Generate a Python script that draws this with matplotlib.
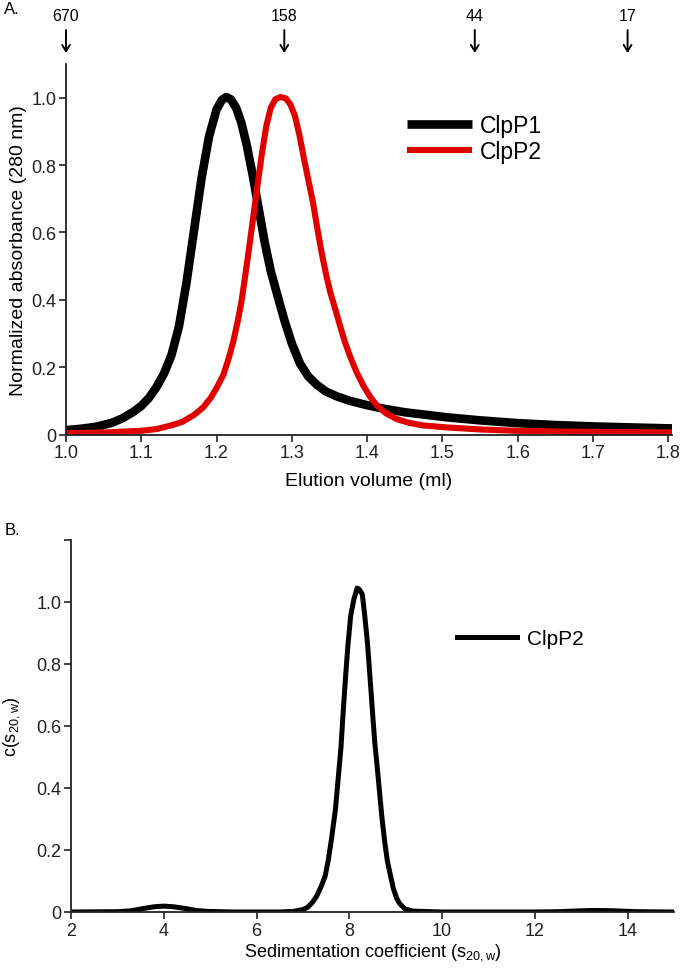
import matplotlib
matplotlib.use("Agg")
import matplotlib.pyplot as plt

plt.rcParams['font.family'] = ['Liberation Sans', 'DejaVu Sans']
plt.rcParams['mathtext.default'] = 'regular'

# ---------------- Data ----------------
# Panel A: size-exclusion chromatography
clpp1_volume = [1.000, 1.020, 1.040, 1.060, 1.075, 1.090, 1.100, 1.110, 1.120, 1.130,
                1.140, 1.150, 1.160, 1.170, 1.180, 1.190, 1.200, 1.207, 1.213, 1.219,
                1.226, 1.233, 1.240, 1.248, 1.256, 1.264, 1.272, 1.280, 1.290, 1.300,
                1.311, 1.322, 1.333, 1.345, 1.360, 1.377, 1.400, 1.421, 1.450, 1.480,
                1.506, 1.550, 1.598, 1.650, 1.700, 1.750, 1.805]
clpp1_abs = [0.013, 0.017, 0.023, 0.034, 0.048, 0.068, 0.085, 0.108, 0.140, 0.180,
             0.235, 0.320, 0.450, 0.605, 0.760, 0.885, 0.965, 0.993, 1.002, 0.995,
             0.970, 0.925, 0.860, 0.770, 0.670, 0.570, 0.485, 0.420, 0.340, 0.270,
             0.210, 0.172, 0.148, 0.128, 0.113, 0.100, 0.087, 0.077, 0.066, 0.058,
             0.051, 0.042, 0.034, 0.028, 0.024, 0.021, 0.018]

clpp2_volume = [1.000, 1.050, 1.100, 1.120, 1.140, 1.155, 1.170, 1.182, 1.192, 1.200,
                1.209, 1.216, 1.222, 1.228, 1.233, 1.238, 1.243, 1.249, 1.255, 1.260,
                1.266, 1.272, 1.278, 1.285, 1.292, 1.298, 1.304, 1.310, 1.316, 1.322,
                1.328, 1.334, 1.340, 1.346, 1.351, 1.358, 1.364, 1.370, 1.377, 1.386,
                1.395, 1.404, 1.413, 1.425, 1.439, 1.455, 1.474, 1.506, 1.550, 1.598,
                1.650, 1.700, 1.750, 1.805]
clpp2_abs = [0.004, 0.006, 0.011, 0.016, 0.027, 0.038, 0.058, 0.080, 0.108, 0.138,
             0.177, 0.225, 0.274, 0.335, 0.393, 0.470, 0.550, 0.650, 0.750, 0.830,
             0.915, 0.970, 0.995, 1.002, 0.998, 0.980, 0.947, 0.890, 0.820, 0.755,
             0.690, 0.610, 0.535, 0.470, 0.423, 0.370, 0.323, 0.278, 0.234, 0.185,
             0.145, 0.112, 0.086, 0.063, 0.046, 0.035, 0.027, 0.021, 0.015, 0.011,
             0.009, 0.008, 0.007, 0.006]

marker_volumes = [1.0, 1.29, 1.543, 1.746]
marker_labels = ['670', '158', '44', '17']

a_xticks = [1.0, 1.1, 1.2, 1.3, 1.4, 1.5, 1.6, 1.7, 1.8]
a_xticklabels = ['1.0', '1.1', '1.2', '1.3', '1.4', '1.5', '1.6', '1.7', '1.8']
a_yticks = [0, 0.2, 0.4, 0.6, 0.8, 1.0]
a_yticklabels = ['0', '0.2', '0.4', '0.6', '0.8', '1.0']

# Panel B: sedimentation velocity c(s)
sed_coeff = [2.0, 3.0, 3.3, 3.55, 3.8, 4.0, 4.2, 4.48, 4.7, 4.95,
             5.5, 6.5, 6.8, 7.0, 7.1, 7.2, 7.3, 7.4, 7.48, 7.55,
             7.62, 7.70, 7.76, 7.82, 7.87, 7.92, 7.97, 8.03, 8.10, 8.17,
             8.22, 8.28, 8.33, 8.39, 8.44, 8.50, 8.55, 8.60, 8.65, 8.70,
             8.76, 8.82, 8.89, 8.95, 9.02, 9.08, 9.20, 9.36, 10.0, 12.0,
             12.5, 13.0, 13.3, 13.7, 14.2, 15.0]
c_s = [0.0, 0.001, 0.004, 0.011, 0.017, 0.019, 0.017, 0.011, 0.005, 0.002,
       0.0, 0.0, 0.002, 0.008, 0.015, 0.030, 0.052, 0.085, 0.116, 0.170,
       0.240, 0.330, 0.430, 0.530, 0.650, 0.760, 0.860, 0.956, 1.010, 1.045,
       1.040, 1.025, 0.960, 0.870, 0.770, 0.645, 0.545, 0.470, 0.390, 0.310,
       0.230, 0.165, 0.116, 0.075, 0.045, 0.028, 0.010, 0.003, 0.0, 0.0,
       0.001, 0.004, 0.005, 0.004, 0.001, 0.0]

b_xticks = [2, 4, 6, 8, 10, 12, 14]
b_xticklabels = ['2', '4', '6', '8', '10', '12', '14']
b_yticks = [0, 0.2, 0.4, 0.6, 0.8, 1.0, 1.2]
b_yticklabels = ['0', '0.2', '0.4', '0.6', '0.8', '1.0', '']

# ---------------- Figure ----------------
W, H = 680, 978
fig = plt.figure(figsize=(W / 100, H / 100), dpi=100)


def frac(left, top, right, bottom):
    return [left / W, 1 - bottom / H, (right - left) / W, (bottom - top) / H]


def style_axes(ax):
    for s in ('top', 'right'):
        ax.spines[s].set_visible(False)
    for s in ('left', 'bottom'):
        ax.spines[s].set_linewidth(1.3)
        ax.spines[s].set_color('#222222')
    ax.tick_params(direction='out', length=5, width=1.2, labelsize=13,
                   colors='#222222', pad=2)


pix = fig.dpi_scale_trans.inverted() + fig.dpi_scale_trans

# Panel A
axA = fig.add_axes(frac(66, 65, 672, 435.5))
axA.plot(clpp1_volume, clpp1_abs, color='black', lw=6.2, label='ClpP1',
         solid_joinstyle='round', solid_capstyle='butt')
axA.plot(clpp2_volume, clpp2_abs, color='#e00000', lw=4.4, label='ClpP2',
         solid_joinstyle='round', solid_capstyle='butt')
axA.set_xlim(1.0, 1.805)
axA.set_ylim(0, 1.1)
axA.set_xticks(a_xticks)
axA.set_xticklabels(a_xticklabels)
axA.set_yticks(a_yticks)
axA.set_yticklabels(a_yticklabels)
style_axes(axA)
axA.set_xlabel('Elution volume (ml)', fontsize=14, labelpad=8)
axA.set_ylabel('Normalized absorbance (280 nm)', fontsize=14, labelpad=3)
leg = axA.legend(loc='center left', frameon=False, fontsize=16.5,
                 handlelength=2.85, handletextpad=0.35, labelspacing=0.1,
                 borderpad=0, borderaxespad=0)
leg.set_bbox_to_anchor((407, H - 139.5), transform=pix)

for v, lab in zip(marker_volumes, marker_labels):
    axA.annotate('', xy=(v, H - 54), xycoords=('data', 'figure pixels'),
                 xytext=(v, H - 31), textcoords=('data', 'figure pixels'),
                 arrowprops=dict(arrowstyle='->,head_length=0.45,head_width=0.28',
                                 lw=1.4, color='black', shrinkA=0, shrinkB=0),
                 annotation_clip=False)
    axA.annotate(lab, xy=(v, H - 17), xycoords=('data', 'figure pixels'),
                 ha='center', va='center', fontsize=11.5, annotation_clip=False)

fig.text(4 / W, 1 - 9 / H, 'A.', fontsize=12, ha='left', va='center')

# Panel B
axB = fig.add_axes(frac(71, 541, 674, 913))
axB.plot(sed_coeff, c_s, color='black', lw=3.6, label='ClpP2',
         solid_joinstyle='round')
axB.set_xlim(2, 15)
axB.set_ylim(0, 1.2)
axB.set_xticks(b_xticks)
axB.set_xticklabels(b_xticklabels)
axB.set_yticks(b_yticks)
axB.set_yticklabels(b_yticklabels)
style_axes(axB)
axB.set_xlabel('Sedimentation coefficient (s$_{20,w}$)', fontsize=13, labelpad=2)
axB.set_ylabel('c(s$_{20,w}$)', fontsize=13, labelpad=10)
legB = axB.legend(loc='center left', frameon=False, fontsize=15,
                  handlelength=2.9, handletextpad=0.48,
                  borderpad=0, borderaxespad=0)
legB.set_bbox_to_anchor((457, H - 640), transform=pix)

fig.text(5 / W, 1 - 531 / H, 'B.', fontsize=12, ha='left', va='center')

fig.savefig('out.png', dpi=100)
